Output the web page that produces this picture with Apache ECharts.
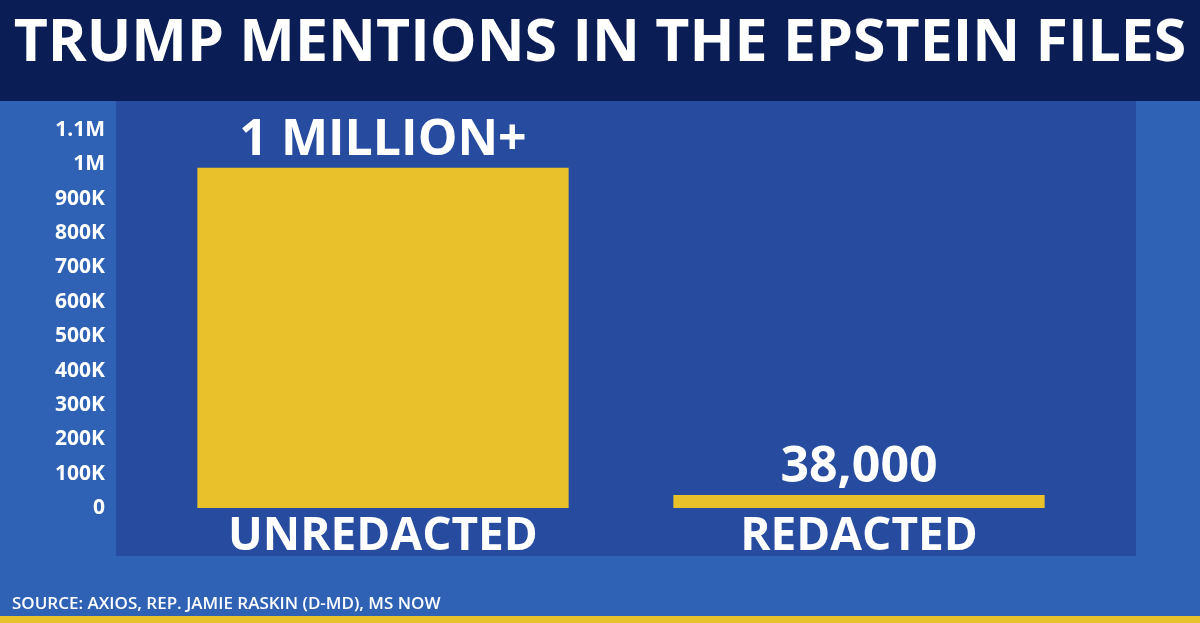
<!DOCTYPE html>
<html>
<head>
<meta charset="utf-8">
<script src="https://cdn.jsdelivr.net/npm/echarts@6/dist/echarts.min.js"></script>
<style>html,body{margin:0;padding:0;background:#2f62b4}#main{width:1200px;height:623px}</style>
</head>
<body>
<div id="main"></div>
<script>
// 数据
var categories = ['UNREDACTED', 'REDACTED']
var values = [990000, 38000]
var valueLabels = ['1 MILLION+', '38,000']
var tickLabels = { 0: '0', 100000: '100K', 200000: '200K', 300000: '300K', 400000: '400K', 500000: '500K',
    600000: '600K', 700000: '700K', 800000: '800K', 900000: '900K', 1000000: '1M', 1100000: '1.1M' }

var myChart = echarts.init(document.getElementById('main'))
var font = '"Open Sans", "Liberation Sans", sans-serif'
var option = {
    backgroundColor: '#2f62b4',
    title: {
        text: 'TRUMP MENTIONS IN THE EPSTEIN FILES',
        left: 'center',
        top: 10,
        textStyle: { color: '#fff', fontSize: 59, fontWeight: 'bold', fontFamily: font }
    },
    graphic: [
        { type: 'rect', z: -10, shape: { x: 0, y: 0, width: 1200, height: 101 }, style: { fill: '#0a1d55' } },
        { type: 'rect', z: -10, shape: { x: 116, y: 101, width: 1020, height: 455 }, style: { fill: '#274c9f' } },
        { type: 'rect', z: -10, shape: { x: 0, y: 616, width: 1200, height: 7 }, style: { fill: '#e8c22a' } },
        { type: 'text', left: 12, top: 596, style: { text: 'SOURCE: AXIOS, REP. JAMIE RASKIN (D-MD), MS NOW', fill: '#fff', font: '600 17px ' + font } }
    ],
    grid: { left: 145, right: 103, top: 130, bottom: 115 },
    xAxis: {
        type: 'category',
        data: categories,
        axisLine: { show: false },
        axisTick: { show: false },
        axisLabel: { color: '#fff', fontSize: 46, fontWeight: 'bold', fontFamily: font, margin: 6 }
    },
    yAxis: {
        type: 'value',
        min: 0, max: 1100000, interval: 100000,
        splitLine: { show: false },
        axisLabel: {
            color: '#fff', fontSize: 21, fontWeight: 'bold', fontFamily: font, margin: 40,
            formatter: function (v) { return tickLabels[v] }
        }
    },
    series: [{
        type: 'bar',
        data: values,
        barWidth: '78%',
        itemStyle: { color: '#e9c22b' },
        label: {
            show: true, position: 'top', distance: 2,
            color: '#fff', fontSize: 50, fontWeight: 'bold', fontFamily: font,
            formatter: function (p) { return valueLabels[p.dataIndex] }
        }
    }]
}
myChart.setOption(option)
window.addEventListener('resize', function () { myChart.resize() })
</script>
</body>
</html>
